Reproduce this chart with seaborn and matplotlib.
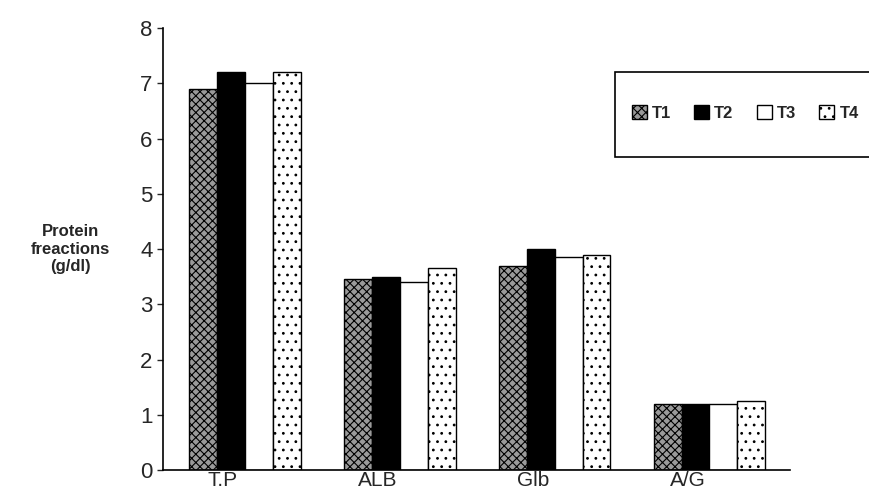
import matplotlib
matplotlib.use("Agg")
import matplotlib.pyplot as plt
import matplotlib.transforms as mtrans
from matplotlib.patches import Patch, Rectangle
import seaborn as sns
import pandas as pd

categories = ["T.P", "ALB", "Glb", "A/G"]
groups = ["T1", "T2", "T3", "T4"]
t1 = [6.9, 3.45, 3.7, 1.2]
t2 = [7.2, 3.5, 4.0, 1.2]
t3 = [7.0, 3.4, 3.85, 1.2]
t4 = [7.2, 3.65, 3.9, 1.25]
yticks = [0, 1, 2, 3, 4, 5, 6, 7, 8]

rows = []
for g, vals in zip(groups, [t1, t2, t3, t4]):
    for c, v in zip(categories, vals):
        rows.append({"cat": c, "grp": g, "val": v})
df = pd.DataFrame(rows)

sns.set_theme(style="white")
plt.rcParams['font.family'] = ['Liberation Sans', 'DejaVu Sans']
plt.rcParams['hatch.linewidth'] = 0.8

W, H = 869, 492
fig = plt.figure(figsize=(8.69, 4.92), dpi=100)
ax = fig.add_axes([163/W, 1-470/H, (790-163)/W, (470-28)/H])

faces = {"T1": "#9a9a9a", "T2": "#000000", "T3": "#ffffff", "T4": "#ffffff"}
hatches = {"T1": "xxxx", "T2": "", "T3": "", "T4": ".."}
sns.barplot(data=df, x="cat", y="val", hue="grp", order=categories, hue_order=groups,
            palette=faces, width=0.72, edgecolor="black", linewidth=1.0, ax=ax, legend=False)

for cont, g in zip(ax.containers, groups):
    for bar in cont:
        bar.set_hatch(hatches[g])
        bar.set_edgecolor("black")

ax.set_ylim(0, 8)
ax.set_yticks(yticks)
ax.set_xlim(-0.53, 3.52)
ax.tick_params(axis='y', labelsize=16, length=4, direction='out', left=True, width=1)
ax.tick_params(axis='x', labelsize=15, length=0, pad=1)
offset = mtrans.ScaledTranslation(-22/100, 0, fig.dpi_scale_trans)
for lab in ax.get_xticklabels():
    lab.set_transform(lab.get_transform() + offset)
ax.set_xlabel("")
ax.set_ylabel("Protein\nfreactions\n(g/dl)", rotation=0, fontsize=12, fontweight='bold',
              labelpad=50, va='center', ha='center')
for s in ["top", "right"]:
    ax.spines[s].set_visible(False)
ax.spines["left"].set_color("black")
ax.spines["bottom"].set_color("black")
ax.spines["left"].set_linewidth(1.2)
ax.spines["bottom"].set_linewidth(1.2)

# legend box
fig.patches.append(Rectangle((615/W, 1-157/H), (880-615)/W, (157-72)/H,
                             transform=fig.transFigure, facecolor="white",
                             edgecolor="black", linewidth=1.2, zorder=5))
handles = [Patch(facecolor=faces[g], edgecolor="black", hatch=hatches[g], label=g) for g in groups]
leg = fig.legend(handles=handles, loc="center left", bbox_to_anchor=(620/W, 1-113/H),
                 ncol=4, frameon=False, fontsize=12, handlelength=0.9, handleheight=0.9,
                 columnspacing=1.4, handletextpad=0.3, borderpad=0.2)
leg.set_zorder(6)
for t in leg.get_texts():
    t.set_fontweight("bold")

fig.savefig("out.png", dpi=100)
